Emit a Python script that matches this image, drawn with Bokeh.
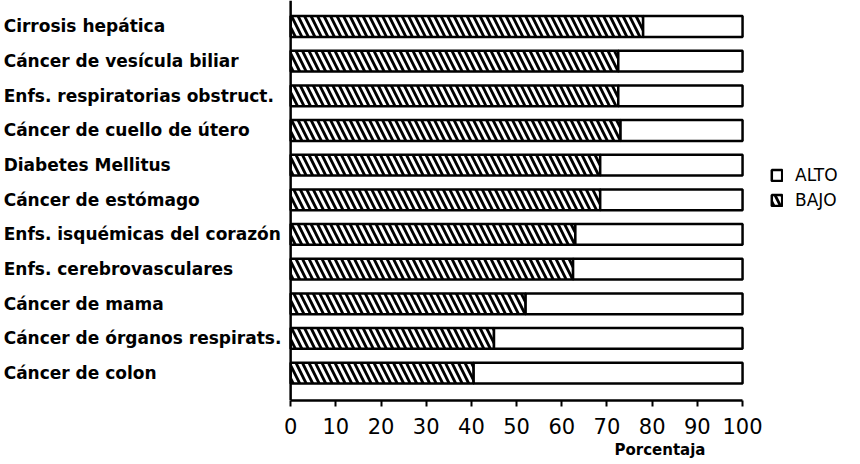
from bokeh.plotting import figure
from bokeh.models import Range1d, LinearAxis, Span, Legend, LegendItem, Title, FixedTicker, ColumnDataSource
from bokeh.embed import file_html
from bokeh.resources import INLINE
from bokeh.core.properties import value

categories = [
    "Cirrosis hepática",
    "Cáncer de vesícula biliar",
    "Enfs. respiratorias obstruct.",
    "Cáncer de cuello de útero",
    "Diabetes Mellitus",
    "Cáncer de estómago",
    "Enfs. isquémicas del corazón",
    "Enfs. cerebrovasculares",
    "Cáncer de mama",
    "Cáncer de órganos respirats.",
    "Cáncer de colon",
]
bajo = [78, 72.5, 72.5, 73, 68.5, 68.5, 63, 62.5, 52, 45, 40.5]
alto = [22, 27.5, 27.5, 27, 31.5, 31.5, 37, 37.5, 48, 55, 59.5]
ticks = [0, 10, 20, 30, 40, 50, 60, 70, 80, 90, 100]
series_names = ["ALTO", "BAJO"]
axis_title = "Porcentaja"

FONT = "DejaVu Sans"
n = len(categories)
ypos = [n - 1 - i for i in range(n)]
total = [b + a for b, a in zip(bajo, alto)]

XMIN, XMAX = -64.2, 126.1
src = ColumnDataSource(dict(y=ypos, bajo=bajo, total=total, cat=categories,
                            lx=[XMIN + 0.7] * n))

p = figure(width=860, height=464, x_range=Range1d(XMIN, XMAX), y_range=Range1d(-0.79, 10.75),
           output_backend="svg", toolbar_location=None,
           x_axis_location=None, y_axis_location=None,
           min_border_left=0, min_border_right=0, min_border_top=0, min_border_bottom=64)
p.outline_line_color = None
p.xgrid.visible = False
p.ygrid.visible = False
p.background_fill_color = "white"
p.border_fill_color = "white"

r_bajo = p.hbar(y="y", left=0, right="bajo", height=0.6, source=src,
                fill_color="white", hatch_pattern="\\", hatch_color="black",
                hatch_scale=13, hatch_weight=2.8, line_color="black", line_width=2.5)
r_alto = p.hbar(y="y", left="bajo", right="total", height=0.6, source=src,
                fill_color="white", line_color="black", line_width=2.5)

p.text(x="lx", y="y", text="cat", source=src, text_font=value(FONT), text_font_size="17px",
       text_font_style="bold", text_align="left", text_baseline="middle", text_color="black")

p.add_layout(Span(location=0, dimension="height", line_color="black", line_width=2.5))

ax = LinearAxis(bounds=(0, 100), ticker=FixedTicker(ticks=ticks))
ax.axis_line_color = "black"
ax.axis_line_width = 2.5
ax.major_tick_line_width = 2
ax.major_tick_out = 6
ax.major_tick_in = 0
ax.minor_tick_out = 0
ax.minor_tick_in = 0
ax.major_label_text_font = FONT
ax.major_label_text_font_size = "21px"
ax.major_label_text_color = "black"
ax.major_label_standoff = 11
p.add_layout(ax, "below")

p.add_layout(Title(text=axis_title, align="left", offset=614, standoff=5,
                   text_font=FONT, text_font_size="15px", text_font_style="bold",
                   text_color="black"), "below")

legend = Legend(items=[LegendItem(label=series_names[0], renderers=[r_alto]),
                       LegendItem(label=series_names[1], renderers=[r_bajo])],
                location=(770, 190), padding=0, margin=0, glyph_width=13, glyph_height=14,
                label_standoff=12, spacing=5, label_height=14,
                border_line_color=None, background_fill_alpha=0,
                label_text_font=FONT, label_text_font_size="17px", label_text_color="black")
p.add_layout(legend, "center")

open("out.html", "w").write(file_html(p, INLINE))
